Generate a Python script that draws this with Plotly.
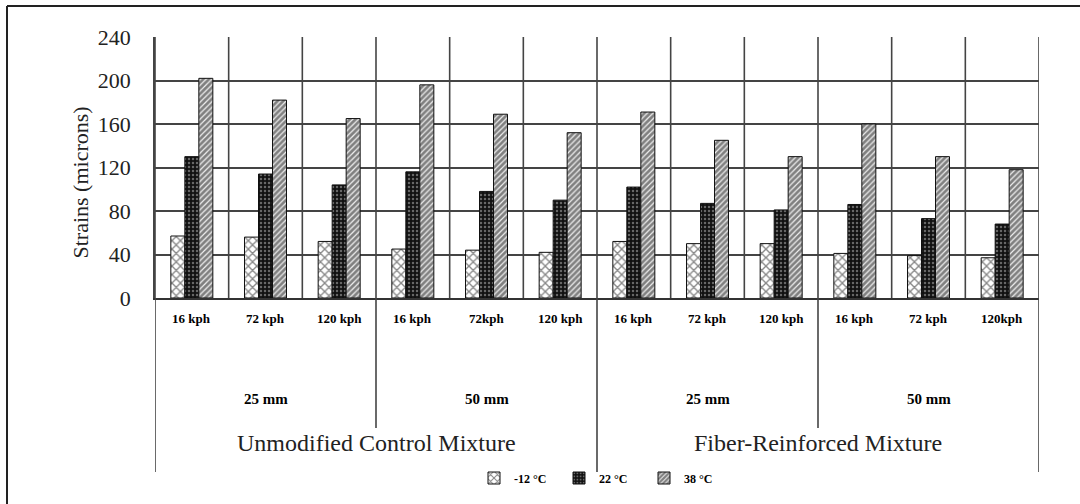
import plotly.graph_objects as go

# ---- data ----
speeds = ["16 kph", "72 kph", "120 kph", "16 kph", "72kph", "120 kph",
          "16 kph", "72 kph", "120 kph", "16 kph", "72 kph", "120kph"]
thickness = ["25 mm", "50 mm", "25 mm", "50 mm"]
mixtures = ["Unmodified Control Mixture", "Fiber-Reinforced Mixture"]
series_names = ["-12 \u00b0C", "22 \u00b0C", "38 \u00b0C"]
strain_m12 = [57, 56, 52, 45, 44, 42, 52, 50, 50, 41, 39, 37]
strain_22 = [130, 114, 104, 116, 98, 90, 102, 87, 81, 86, 73, 68]
strain_38 = [202, 182, 165, 196, 169, 152, 171, 145, 130, 160, 130, 118]
y_ticks = [0, 40, 80, 120, 160, 200, 240]

W, H = 1080, 504
PL, PR, PT, PB = 155, 1039, 37, 298
FONT = "Liberation Serif, Times New Roman, serif"


def px_x(p):
    return (p - PL) / (PR - PL)


def px_y(p):
    return (PB - p) / (PB - PT)


x = list(range(len(speeds)))
fig = go.Figure()
patterns = [
    dict(shape="x", fgcolor="#111", bgcolor="white", size=6, solidity=0.4),
    dict(shape=".", fgcolor="#bbb", bgcolor="#111", size=4, solidity=0.3),
    dict(shape="/", fgcolor="#111", bgcolor="#eee", size=4, solidity=0.7),
]
for name, vals, pat in zip(series_names, [strain_m12, strain_22, strain_38], patterns):
    fig.add_trace(go.Bar(
        x=x, y=vals, name=name,
        marker=dict(color="white", pattern=pat, line=dict(color="#111", width=1)),
    ))

shapes = []
n = len(speeds)
# vertical category dividers within plot
for i in range(n + 1):
    shapes.append(dict(type="line", xref="x", yref="y", x0=i - 0.5, x1=i - 0.5,
                       y0=0, y1=240, line=dict(color="#444", width=1.6), layer="below"))
# group dividers extending below
per_thick = n // len(thickness)
per_mix = n // len(mixtures)
for g in range(len(thickness) + 1):
    xb = g * per_thick - 0.5
    bottom = 472 if (g * per_thick) % per_mix == 0 else 428
    shapes.append(dict(type="line", xref="x", yref="paper", x0=xb, x1=xb,
                       y0=px_y(bottom), y1=0, line=dict(color="#444", width=1.6)))
# outer frame (left and top edges)
shapes.append(dict(type="line", xref="paper", yref="paper", x0=px_x(7), x1=px_x(7),
                   y0=px_y(504), y1=px_y(6), line=dict(color="#222", width=2)))
shapes.append(dict(type="line", xref="paper", yref="paper", x0=px_x(7), x1=px_x(1080),
                   y0=px_y(6), y1=px_y(6), line=dict(color="#222", width=2)))

annotations = []
for i, s in enumerate(speeds):
    annotations.append(dict(x=i, y=px_y(328), xref="x", yref="paper", text="<b>" + s + "</b>",
                            showarrow=False, font=dict(family=FONT, size=13, color="black")))
for g, t in enumerate(thickness):
    annotations.append(dict(x=g * per_thick + (per_thick - 1) / 2, y=px_y(409), xref="x", yref="paper",
                            text="<b>" + t + "</b>", showarrow=False,
                            font=dict(family=FONT, size=15, color="black")))
for m, t in enumerate(mixtures):
    annotations.append(dict(x=m * per_mix + (per_mix - 1) / 2, y=px_y(458), xref="x", yref="paper",
                            text=t, showarrow=False,
                            font=dict(family=FONT, size=24, color="#222")))
annotations.append(dict(x=px_x(65), y=px_y(183), xref="paper", yref="paper",
                        text="Strains (microns)", textangle=-90, showarrow=False,
                        font=dict(family=FONT, size=22, color="#222")))

fig.update_layout(
    width=W, height=H,
    margin=dict(l=PL, r=W - PR, t=PT, b=H - PB, pad=0),
    paper_bgcolor="white", plot_bgcolor="white",
    barmode="group", bargap=0.43, bargroupgap=0,
    font=dict(family=FONT, color="black"),
    shapes=shapes, annotations=annotations,
    showlegend=True,
    legend=dict(orientation="h", x=px_x(474), y=px_y(478), xanchor="left", yanchor="middle",
                font=dict(family=FONT, size=12, color="black", weight="bold"),
                entrywidth=40, bgcolor="rgba(0,0,0,0)"),
)
fig.update_xaxes(range=[-0.5, n - 0.5], showticklabels=False, showgrid=False,
                 zeroline=False, showline=True, linecolor="#333", linewidth=1.6, automargin=False)
fig.update_yaxes(range=[0, 240], tickvals=y_ticks, showgrid=True, gridcolor="#444", gridwidth=1.6,
                 zeroline=False, showline=True, linecolor="#444", linewidth=1.6, automargin=False,
                 tickfont=dict(family=FONT, size=22, color="#222"), ticklabelstandoff=18)

fig.write_html("out.html", config={"displayModeBar": False},
               post_script="document.body.style.margin='0px';")
